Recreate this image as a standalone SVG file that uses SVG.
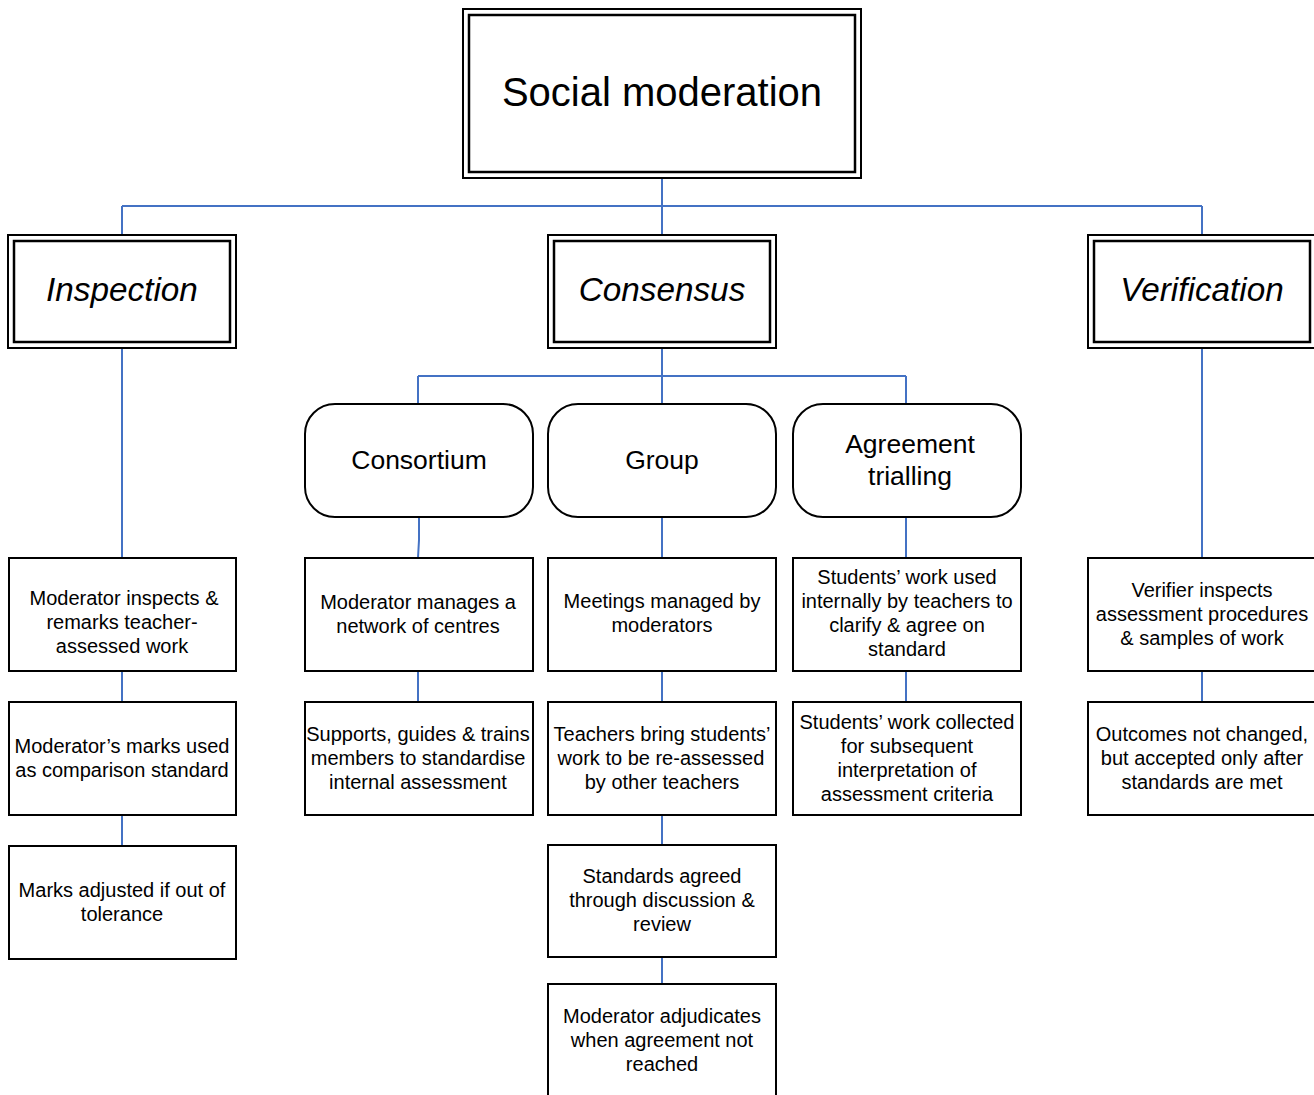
<svg xmlns="http://www.w3.org/2000/svg" width="1314" height="1095" viewBox="0 0 1314 1095">
<style>
.o{fill:#fff;stroke:#000;stroke-width:2}
.i{fill:none;stroke:#000;stroke-width:2.5}
.r{fill:#fff;stroke:#000;stroke-width:2}
.c{fill:none;stroke:#4472C4;stroke-width:2}
text{font-family:"Liberation Sans",Arial,sans-serif;fill:#000;text-anchor:middle}
.t1{font-size:40px}
.t2{font-size:33.3px;font-style:italic}
.t3{font-size:26.5px}
.t4{font-size:20px}
</style>
<rect width="1314" height="1095" fill="#fff"/>
<g id="connectors">
<path class="c" d="M662 178V206M122 206H1202M122 206V234M662 206V234M1202 206V234"/>
<path class="c" d="M122 348V558M1202 348V558"/>
<path class="c" d="M662 348V376M418 376H906M418 376V404M662 376V404M906 376V404"/>
<path class="c" d="M419 517V540L418 558M662 517V558M906 517V558"/>
<path class="c" d="M122 671V702M418 671V702M662 671V702M906 671V702M1202 671V702"/>
<path class="c" d="M122 815V846M662 815V846M662 957V984"/>
</g>
<g id="social">
<rect class="o" x="463" y="9" width="398" height="169"/>
<rect class="i" x="469" y="15" width="386" height="157"/>
<text class="t1" x="662" y="106">Social moderation</text>
</g>
<g id="inspection">
<rect class="o" x="8" y="235" width="228" height="113"/>
<rect class="i" x="14" y="241" width="216" height="101"/>
<text class="t2" x="122" y="301">Inspection</text>
</g>
<g id="consensus">
<rect class="o" x="548" y="235" width="228" height="113"/>
<rect class="i" x="554" y="241" width="216" height="101"/>
<text class="t2" x="662" y="301">Consensus</text>
</g>
<g id="verification">
<rect class="o" x="1088" y="235" width="228" height="113"/>
<rect class="i" x="1094" y="241" width="216" height="101"/>
<text class="t2" x="1202" y="301">Verification</text>
</g>
<g id="consortium">
<rect class="r" x="305" y="404" width="228" height="113" rx="30"/>
<text class="t3" x="419" y="469">Consortium</text>
</g>
<g id="group">
<rect class="r" x="548" y="404" width="228" height="113" rx="30"/>
<text class="t3" x="662" y="469">Group</text>
</g>
<g id="agreement">
<rect class="r" x="793" y="404" width="228" height="113" rx="30"/>
<text class="t3" x="910" y="453">Agreement</text>
<text class="t3" x="910" y="485">trialling</text>
</g>
<g id="insp1">
<rect class="r" x="9" y="558" width="227" height="113"/>
<text class="t4" x="124" y="605">Moderator inspects &amp;</text>
<text class="t4" x="122" y="629">remarks teacher-</text>
<text class="t4" x="122" y="653">assessed work</text>
</g>
<g id="insp2">
<rect class="r" x="9" y="702" width="227" height="113"/>
<text class="t4" x="122" y="753">Moderator’s marks used</text>
<text class="t4" x="122" y="777">as comparison standard</text>
</g>
<g id="insp3">
<rect class="r" x="9" y="846" width="227" height="113"/>
<text class="t4" x="122" y="897">Marks adjusted if out of</text>
<text class="t4" x="122" y="921">tolerance</text>
</g>
<g id="cons1">
<rect class="r" x="305" y="558" width="228" height="113"/>
<text class="t4" x="418" y="609">Moderator manages a</text>
<text class="t4" x="418" y="633">network of centres</text>
</g>
<g id="cons2">
<rect class="r" x="305" y="702" width="228" height="113"/>
<text class="t4" x="418" y="741">Supports, guides &amp; trains</text>
<text class="t4" x="418" y="765">members to standardise</text>
<text class="t4" x="418" y="789">internal assessment</text>
</g>
<g id="grp1">
<rect class="r" x="548" y="558" width="228" height="113"/>
<text class="t4" x="662" y="608">Meetings managed by</text>
<text class="t4" x="662" y="632">moderators</text>
</g>
<g id="grp2">
<rect class="r" x="548" y="702" width="228" height="113"/>
<text class="t4" x="662" y="741">Teachers bring students’</text>
<text class="t4" x="661" y="765">work to be re-assessed</text>
<text class="t4" x="662" y="789">by other teachers</text>
</g>
<g id="grp3">
<rect class="r" x="548" y="845" width="228" height="112"/>
<text class="t4" x="662" y="883">Standards agreed</text>
<text class="t4" x="662" y="907">through discussion &amp;</text>
<text class="t4" x="662" y="931">review</text>
</g>
<g id="grp4">
<rect class="r" x="548" y="984" width="228" height="120"/>
<text class="t4" x="662" y="1023">Moderator adjudicates</text>
<text class="t4" x="662" y="1047">when agreement not</text>
<text class="t4" x="662" y="1071">reached</text>
</g>
<g id="agr1">
<rect class="r" x="793" y="558" width="228" height="113"/>
<text class="t4" x="907" y="584">Students’ work used</text>
<text class="t4" x="907" y="608">internally by teachers to</text>
<text class="t4" x="907" y="632">clarify &amp; agree on</text>
<text class="t4" x="907" y="656">standard</text>
</g>
<g id="agr2">
<rect class="r" x="793" y="702" width="228" height="113"/>
<text class="t4" x="907" y="729">Students’ work collected</text>
<text class="t4" x="907" y="753">for subsequent</text>
<text class="t4" x="907" y="777">interpretation of</text>
<text class="t4" x="907" y="801">assessment criteria</text>
</g>
<g id="ver1">
<rect class="r" x="1088" y="558" width="228" height="113"/>
<text class="t4" x="1202" y="597">Verifier inspects</text>
<text class="t4" x="1202" y="621">assessment procedures</text>
<text class="t4" x="1202" y="645">&amp; samples of work</text>
</g>
<g id="ver2">
<rect class="r" x="1088" y="702" width="228" height="113"/>
<text class="t4" x="1202" y="741">Outcomes not changed,</text>
<text class="t4" x="1202" y="765">but accepted only after</text>
<text class="t4" x="1202" y="789">standards are met</text>
</g>
</svg>
